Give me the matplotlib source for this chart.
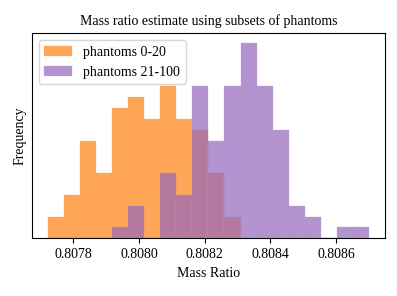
import numpy as np
import matplotlib
matplotlib.use('Agg')
import matplotlib.pyplot as plt

plt.rcParams['font.family'] = ['Liberation Serif', 'DejaVu Serif']
plt.rcParams['font.size'] = 10

# shared bin edges (20 bins)
edge_lo = 0.807722
edge_hi = 0.808700
n_bins = 20

# counts per bin
counts_early = [2, 4, 9, 6, 12, 13, 11, 14, 11, 10, 6, 2,
                0, 0, 0, 0, 0, 0, 0, 0]
counts_late = [0, 0, 0, 0, 1, 3, 0, 6, 4, 14, 9, 14,
               18, 14, 10, 3, 2, 0, 1, 1]
labels = ['phantoms 0-20', 'phantoms 21-100']

edges = np.linspace(edge_lo, edge_hi, n_bins + 1)
centers = 0.5 * (edges[:-1] + edges[1:])

fig = plt.figure(figsize=[3.97, 2.96], dpi=100)
ax = fig.add_subplot(111)

ax.hist(centers, bins=edges, weights=counts_early, color='#ff7f0e',
        alpha=0.7, edgecolor='#ffa860', linewidth=0.3, label=labels[0])
ax.hist(centers, bins=edges, weights=counts_late, color='#9467bd',
        alpha=0.7, edgecolor='#b89bd6', linewidth=0.3, label=labels[1])

ax.set_title('Mass ratio estimate using subsets of phantoms', fontsize=10)
ax.set_xlabel('Mass Ratio')
ax.set_ylabel('Frequency')
ax.set_yticks([])
ax.set_xticks([0.8078, 0.8080, 0.8082, 0.8084, 0.8086])
ax.set_xticklabels(['0.8078', '0.8080', '0.8082', '0.8084', '0.8086'])
ax.legend(loc='upper left', fontsize=10)

fig.subplots_adjust(left=0.08, right=0.97, top=0.888, bottom=0.195)
fig.savefig('out.png', dpi=100)
